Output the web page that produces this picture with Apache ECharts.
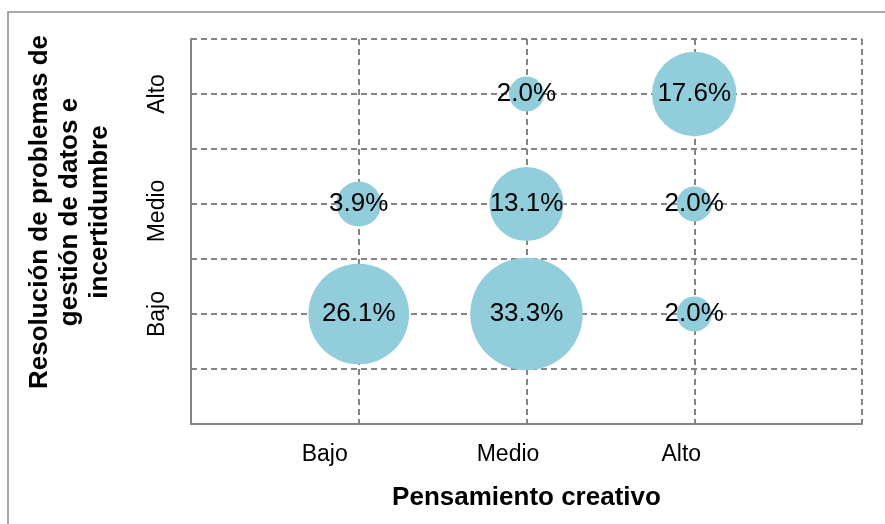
<!DOCTYPE html>
<html>
<head>
<meta charset="utf-8">
<script src="https://cdn.jsdelivr.net/npm/echarts@6/dist/echarts.min.js"></script>
<style>
  html, body { margin: 0; padding: 0; background: #ffffff; }
  #chart { width: 885px; height: 524px; }
</style>
</head>
<body>
<div id="chart"></div>
<script>
// Category labels for both axes
const xCategories = ['Bajo', 'Medio', 'Alto'];   // Pensamiento creativo
const yCategories = ['Bajo', 'Medio', 'Alto'];   // Resolución de problemas...

// Percentages per row of the y axis, ordered by xCategories (null = empty cell)
const rowBajo  = [26.1, 33.3, 2.0];
const rowMedio = [3.9, 13.1, 2.0];
const rowAlto  = [null, 2.0, 17.6];

const rows = [rowBajo, rowMedio, rowAlto];

// Build [x, y, value] triples; positions 1..3 on each value axis
const points = [];
rows.forEach((row, r) => {
  row.forEach((v, c) => {
    if (v !== null) points.push([c + 1, r + 1, v]);
  });
});

const gray = '#848484';
const font = "'Liberation Sans', Arial, sans-serif";
const labelFont = { fontFamily: font, fontSize: 23, color: '#000' };

const chart = echarts.init(document.getElementById('chart'));
chart.setOption({
  animation: false,
  backgroundColor: '#ffffff',
  grid: { left: 191, right: 23, top: 39, bottom: 100, containLabel: false },
  xAxis: {
    type: 'value',
    min: 0, max: 4, interval: 1,
    axisLine: { show: true, lineStyle: { color: gray, width: 2 } },
    axisTick: { show: false },
    splitLine: { show: true, lineStyle: { color: gray, width: 2, type: [6, 4] } },
    axisLabel: {
      margin: 19,
      color: '#000',
      fontFamily: font,
      fontSize: 23,
      formatter: v => xCategories[v - 1] ? '{x' + (v - 1) + '|' + xCategories[v - 1] + '}' : '',
      // category names sit slightly left of their gridlines
      rich: {
        x0: Object.assign({ padding: [0, 68, 0, 0] }, labelFont),
        x1: Object.assign({ padding: [0, 37, 0, 0] }, labelFont),
        x2: Object.assign({ padding: [0, 26, 0, 0] }, labelFont)
      }
    },
    name: 'Pensamiento creativo',
    nameLocation: 'middle',
    nameGap: 61,
    nameTextStyle: { color: '#000', fontFamily: font, fontSize: 26, fontWeight: 'bold' }
  },
  yAxis: {
    type: 'value',
    min: 0, max: 3.5, interval: 0.5,
    axisLine: { show: true, lineStyle: { color: gray, width: 2 } },
    axisTick: { show: false },
    splitLine: { show: true, lineStyle: { color: gray, width: 2, type: [6, 4] } },
    axisLabel: {
      rotate: 90,
      margin: 22,
      color: '#000',
      fontFamily: font,
      fontSize: 23,
      formatter: v => (Number.isInteger(v) && v >= 1 && v <= 3) ? '{y' + (v - 1) + '|' + yCategories[v - 1] + '}' : '',
      rich: {
        y0: Object.assign({}, labelFont),
        y1: Object.assign({ padding: [0, 14, 0, 0] }, labelFont),
        y2: Object.assign({}, labelFont)
      }
    }
  },
  graphic: [
    {
      type: 'rect',
      silent: true,
      z: -10,
      shape: { x: 8, y: 12, width: 900, height: 600 },
      style: { fill: 'none', stroke: '#8c8c8c', lineWidth: 1.5 }
    },
    {
      type: 'text',
      silent: true,
      x: 70,
      y: 212,
      rotation: Math.PI / 2,
      style: {
        text: 'Resolución de problemas de\ngestión de datos e\nincertidumbre',
        fill: '#000',
        font: "bold 26px 'Liberation Sans', Arial, sans-serif",
        lineHeight: 30,
        align: 'center',
        verticalAlign: 'middle'
      }
    }
  ],
  series: [{
    type: 'scatter',
    data: points,
    symbol: 'circle',
    // bubble diameter grows with the square root of the percentage
    symbolSize: d => 9.8 + 17.8 * Math.sqrt(d[2]),
    itemStyle: { color: '#92CDDC', opacity: 1 },
    label: {
      show: true,
      position: 'inside',
      color: '#000',
      fontFamily: font,
      fontSize: 26,
      formatter: p => p.value[2].toFixed(1) + '%'
    },
    emphasis: { disabled: true }
  }]
});
</script>
</body>
</html>
